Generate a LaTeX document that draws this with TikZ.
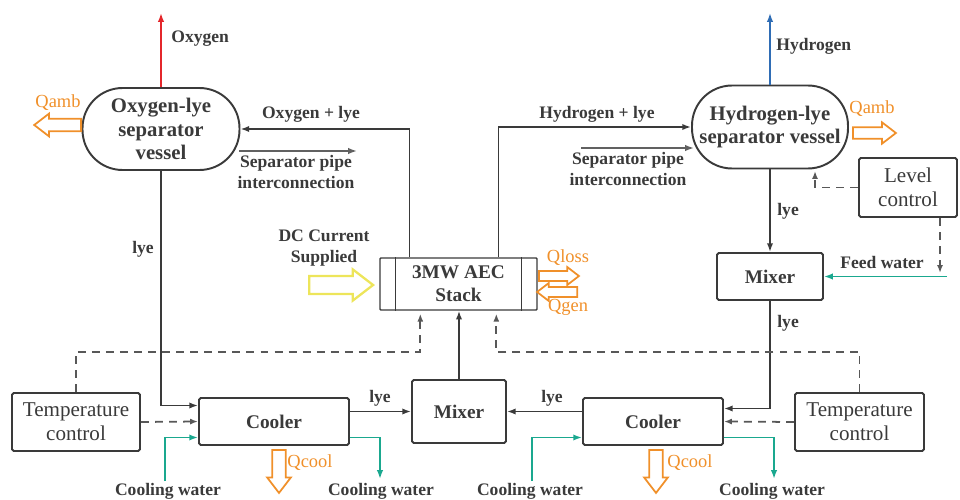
\documentclass[tikz,border=0pt]{standalone}
\usepackage{fontspec}
\setmainfont{Liberation Serif}
\usetikzlibrary{arrows.meta,shapes.arrows,calc}
\definecolor{ln}{HTML}{3A3A3A}
\definecolor{oxred}{HTML}{E4262B}
\definecolor{hyblue}{HTML}{2F6DB5}
\definecolor{qorange}{HTML}{F0902A}
\definecolor{wteal}{HTML}{1AA88F}
\definecolor{dcyellow}{HTML}{EDE55A}
\begin{document}
\begin{tikzpicture}[x=0.02cm,y=-0.02cm,
  box/.style={draw=ln, line width=1.1pt, rectangle, rounded corners=1pt, inner sep=0pt, align=center},
  bl/.style={font=\fontsize{11}{13}\selectfont\bfseries, text=ln},
  vl/.style={font=\fontsize{11.8}{13.5}\selectfont\bfseries, text=ln},
  rg/.style={font=\fontsize{12}{13.5}\selectfont, text=ln},
  lbl/.style={font=\fontsize{10}{12}\selectfont\bfseries, text=ln, align=center, inner sep=0pt},
  qlbl/.style={font=\fontsize{10.5}{12}\selectfont, text=qorange, inner sep=0pt},
  flow/.style={draw=ln, line width=0.9pt, -{Latex[length=5pt,width=3.6pt]}},
  ctrl/.style={draw=ln!85, line width=1pt, dash pattern=on 4.5pt off 3.5pt, -{Latex[length=4.5pt,width=3.4pt]}},
  water/.style={draw=wteal, line width=1pt, -{Latex[length=5pt,width=3.6pt]}},
  hollow/.style={single arrow, draw, fill=white, inner xsep=0pt, single arrow tip angle=75, single arrow head indent=0pt, line width=1pt, anchor=tail}
]
\useasboundingbox (0,0) rectangle (960,500);

% ---- main nodes
\node[box, rounded corners=0.8cm, minimum width=3.14cm, minimum height=1.64cm, vl] (ov) at (161,129) {Oxygen-lye\\separator\\vessel};
\node[box, rounded corners=0.8cm, minimum width=3.12cm, minimum height=1.66cm, vl] (hv) at (770,127) {Hydrogen-lye\\separator vessel};
\node[box, line width=0.8pt, rounded corners=0.5pt, minimum width=3.14cm, minimum height=1.04cm, bl] (stack) at (458.5,284) {3MW AEC\\Stack};
\draw[ln, line width=0.8pt] ($(stack.north west)+(16,0)$) -- ($(stack.south west)+(16,0)$);
\draw[ln, line width=0.8pt] ($(stack.north east)+(-16,0)$) -- ($(stack.south east)+(-16,0)$);
\node[box, minimum width=3.0cm, minimum height=0.94cm, bl] (cooll) at (274,421.5) {Cooler};
\node[box, minimum width=1.88cm, minimum height=1.26cm, bl] (mixc) at (459,411.5) {Mixer};
\node[box, minimum width=2.8cm, minimum height=0.94cm, bl] (coolr) at (653,421.5) {Cooler};
\node[box, minimum width=2.12cm, minimum height=0.94cm, bl] (mixr) at (770,276.5) {Mixer};
\node[box, minimum width=2.56cm, minimum height=1.16cm, rg] (templ) at (76,422) {Temperature\\control};
\node[box, minimum width=2.58cm, minimum height=1.16cm, rg] (tempr) at (859.5,422) {Temperature\\control};
\node[box, minimum width=1.96cm, minimum height=1.18cm, rg] (level) at (908,187.5) {Level\\control};

% ---- product gases
\coordinate (oxt) at (161,13);
\draw[flow, draw=oxred] (ov.north) -- (oxt);
\node[lbl, anchor=west] (oxl) at (171,39) {Oxygen};
\coordinate (hyt) at (770,13);
\draw[flow, draw=hyblue] (hv.north) -- (hyt);
\node[lbl, anchor=west] (hyl) at (776,46) {Hydrogen};

% ---- stack to separators
\draw[flow] ($(stack.north west)+(30,0)$) |- (ov.east);
\node[lbl] (oxlye) at (311,114) {Oxygen + lye};
\draw[flow] ($(stack.north east)+(-39,0)$) |- (hv.west);
\node[lbl] (hylye) at (597,114) {Hydrogen + lye};

% ---- separator pipe interconnection
\coordinate (sp1a) at (239,151); \coordinate (sp1b) at (357,151);
\draw[flow, draw=ln!80] (sp1a) -- (sp1b);
\node[lbl] (sp1l) at (296,172) {Separator pipe\\interconnection};
\coordinate (sp2a) at (581,148); \coordinate (sp2b) at (694,148);
\draw[flow, draw=ln!80] (sp2a) -- (sp2b);
\node[lbl] (sp2l) at (628,169) {Separator pipe\\interconnection};

% ---- heat arrows (placed by their tails)
\node[hollow, draw=qorange, rotate=180, minimum height=26.7pt, inner ysep=3pt, single arrow head extend=3pt] (qa1) at (82,125) {};
\node[qlbl] (qa1l) at (58,103) {Qamb};
\node[hollow, draw=qorange, minimum height=24.5pt, inner ysep=2.8pt, single arrow head extend=2.8pt] (qa2) at (852,133) {};
\node[qlbl] (qa2l) at (872,109) {Qamb};
\node[hollow, draw=dcyellow, line width=1.3pt, minimum height=36.4pt, inner ysep=4.5pt, single arrow head extend=3.7pt] (dc) at (308,285) {};
\node[lbl] (dcl) at (324,248) {DC Current\\Supplied};
\node[hollow, draw=qorange, minimum height=22.8pt, inner ysep=2.3pt, single arrow head extend=2.3pt] (ql) at (538,276) {};
\node[hollow, draw=qorange, rotate=180, minimum height=22.8pt, inner ysep=2.3pt, single arrow head extend=2.3pt] (qg) at (578,292) {};
\node[qlbl] (qll) at (568,258) {Qloss};
\node[qlbl] (qgl) at (568,307) {Qgen};
\node[hollow, draw=qorange, rotate=-90, minimum height=24.5pt, inner ysep=3.4pt, single arrow head extend=2.8pt] (qc1) at (279,449) {};
\node[qlbl] (qc1l) at (310,463) {Qcool};
\node[hollow, draw=qorange, rotate=-90, minimum height=24.5pt, inner ysep=3.4pt, single arrow head extend=2.8pt] (qc2) at (656,449) {};
\node[qlbl] (qc2l) at (690,463) {Qcool};

% ---- lye loop, oxygen side
\draw[flow] (ov.south) |- ($(cooll.west)+(0,-16)$);
\node[lbl] (lye1) at (143,249) {lye};
\draw[flow] (cooll.east |- mixc.west) -- (mixc.west);
\node[lbl] (lye2) at (380,398) {lye};
\draw[flow] (mixc.north) -- (mixc.north |- stack.south);

% ---- lye loop, hydrogen side
\draw[flow] (hv.south) -- (mixr.north);
\node[lbl, anchor=west] (lye3) at (777,211) {lye};
\draw[flow] (mixr.south) |- ($(coolr.east)+(0,-13)$);
\node[lbl, anchor=west] (lye4) at (777,323) {lye};
\draw[flow] (coolr.west |- mixc.east) -- (mixc.east);
\node[lbl] (lye5) at (552,398) {lye};

% ---- feed water and level control
\coordinate (fw) at (947,276.5);
\draw[water] (fw) -- (mixr.east);
\node[lbl] (fwl) at (882,262) {Feed water};
\coordinate (lv1) at (815,171);
\draw[ctrl] (level.west) -| (lv1);
\coordinate (lv2) at (940,273);
\draw[ctrl] (level.south -| lv2) -- (lv2);

% ---- temperature control
\draw[ctrl] (templ.east) -- (cooll.west);
\draw[ctrl] (templ.north) |- ($(stack.south west)+(41,41)$) -- ($(stack.south west)+(41,3)$);
\draw[ctrl] (tempr.west) -- (coolr.east);
\draw[ctrl] (tempr.north) |- ($(stack.south west)+(117,41)$) -- ($(stack.south west)+(117,3)$);

% ---- cooling water
\coordinate (cw1) at (165,481);
\draw[water] (cw1) |- ($(cooll.west)+(0,16)$);
\coordinate (cw2) at (380,479);
\draw[water] ($(cooll.east)+(0,16)$) -| (cw2);
\coordinate (cw3) at (532,481);
\draw[water] (cw3) |- ($(coolr.west)+(0,16)$);
\coordinate (cw4) at (774,479);
\draw[water] ($(coolr.east)+(0,16)$) -| (cw4);
\node[lbl] (cw1l) at (168,491) {Cooling water};
\node[lbl] (cw2l) at (381,491) {Cooling water};
\node[lbl] (cw3l) at (530,491) {Cooling water};
\node[lbl] (cw4l) at (772,491) {Cooling water};
\end{tikzpicture}
\end{document}
